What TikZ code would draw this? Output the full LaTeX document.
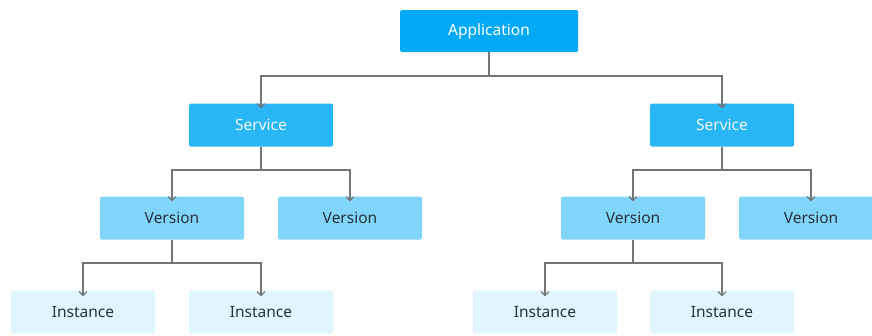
\documentclass[tikz,border=0pt]{standalone}
\usepackage{fontspec}
\setmainfont{Noto Sans}
\usetikzlibrary{arrows.meta}
\definecolor{appc}{HTML}{03A9F4}
\definecolor{svcc}{HTML}{29B6F6}
\definecolor{verc}{HTML}{81D4FA}
\definecolor{insc}{HTML}{E1F5FE}
\definecolor{linec}{HTML}{757575}
\definecolor{darkt}{HTML}{263238}
\begin{document}
\begin{tikzpicture}[x=1pt,y=-1pt,
  box/.style={rectangle, rounded corners=1.5pt, minimum width=144pt, minimum height=43pt, inner sep=0pt, font=\fontsize{15.5}{18}\selectfont},
  appbox/.style={box, fill=appc, text=white, minimum width=178pt, minimum height=42pt},
  svcbox/.style={box, fill=svcc, text=white!92!svcc},
  verbox/.style={box, fill=verc, text=darkt},
  insbox/.style={box, fill=insc, text=darkt},
  link/.style={draw=linec, line width=1.3pt},
  conn/.style={link, -{Straight Barb[length=4pt,width=8pt,line width=1.1pt]}}
]
\useasboundingbox (0,0) rectangle (872,335);
\begin{scope}
\clip (0,0) rectangle (872,335);
\node[appbox] (app) at (489,31) {Application};
\node[svcbox] (s1) at (261,125) {Service};
\node[svcbox] (s2) at (722,125) {Service};
\node[verbox] (v1) at (172,218) {Version};
\node[verbox] (v2) at (350,218) {Version};
\node[verbox] (v3) at (633,218) {Version};
\node[verbox] (v4) at (811,218) {Version};
\node[insbox] (i1) at (83,312) {Instance};
\node[insbox] (i2) at (261,312) {Instance};
\node[insbox] (i3) at (545,312) {Instance};
\node[insbox] (i4) at (722,312) {Instance};
\end{scope}
\coordinate (ja) at (489,76);
\coordinate (js1) at (261,170);
\coordinate (js2) at (722,170);
\coordinate (jv1) at (172,263);
\coordinate (jv3) at (633,263);
\draw[link] (app.south) -- (ja);
\draw[conn] (ja) -| ([yshift=-5pt]s1.north);
\draw[conn] (ja) -| ([yshift=-5pt]s2.north);
\draw[link] (s1.south) -- (js1);
\draw[conn] (js1) -| ([yshift=-5pt]v1.north);
\draw[conn] (js1) -| ([yshift=-5pt]v2.north);
\draw[link] (s2.south) -- (js2);
\draw[conn] (js2) -| ([yshift=-5pt]v3.north);
\draw[conn] (js2) -| ([yshift=-5pt]v4.north);
\draw[link] (v1.south) -- (jv1);
\draw[conn] (jv1) -| ([yshift=-6pt]i1.north);
\draw[conn] (jv1) -| ([yshift=-6pt]i2.north);
\draw[link] (v3.south) -- (jv3);
\draw[conn] (jv3) -| ([yshift=-6pt]i3.north);
\draw[conn] (jv3) -| ([yshift=-6pt]i4.north);
\end{tikzpicture}
\end{document}
